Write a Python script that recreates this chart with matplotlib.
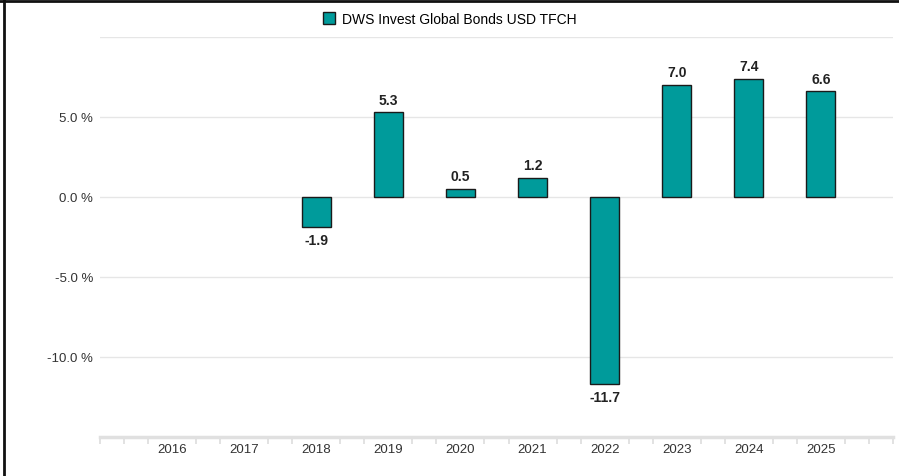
import matplotlib.pyplot as plt
import numpy as np
from matplotlib.lines import Line2D
from matplotlib.patches import Patch

#--------------------------------------------#
# Data
#--------------------------------------------#
years   = ["2016", "2017", "2018", "2019", "2020", "2021", "2022", "2023", "2024", "2025"]
returns = [None, None, -1.9, 5.3, 0.5, 1.2, -11.7, 7.0, 7.4, 6.6]
series_name = "DWS Invest Global Bonds USD TFCH"
yticks = [-10, -5, 0, 5]

teal = "#009b9b"
grid_col = "#e6e6e6"

plt.rcParams['font.family'] = ['Liberation Sans', 'DejaVu Sans']

fig = plt.figure(figsize=(8.99, 4.77), dpi=100)
ax = fig.add_axes([100/899, 39/477, 793/899, 400/477])

x = np.arange(len(years))
vals = np.array([np.nan if v is None else v for v in returns])
have = ~np.isnan(vals)

# grid lines
for g in [-15, -10, -5, 0, 5, 10]:
    ax.axhline(g, color=grid_col, lw=1.0, zorder=0)

# only the years that have a value get a bar
ax.bar(x[have], vals[have], width=0.4, color=teal, edgecolor="#1a1a1a",
       linewidth=1.0, zorder=3)
for xi, v in zip(x[have], vals[have]):
    if v >= 0:
        ax.text(xi, v + 0.35, "%.1f" % v, ha='center', va='bottom',
                fontsize=10, color="#222222", fontweight='bold')
    else:
        ax.text(xi, v - 0.35, "%.1f" % v, ha='center', va='top',
                fontsize=10, color="#222222", fontweight='bold')

ax.set_xlim(-1, 10)
ax.set_ylim(-15, 10)
ax.set_yticks(yticks)
ax.set_yticklabels(["%.1f %%" % t for t in yticks], fontsize=9.5, color="#333333")
ax.tick_params(axis='y', length=0, pad=5)

ax.set_xticks(x)
ax.set_xticklabels(years, fontsize=9.5, color="#333333")
ax.tick_params(axis='x', length=0, pad=4)
minor = [k/3 for k in range(-3, 31) if k % 3 != 0] + [-1, 10]
ax.set_xticks(minor, minor=True)
ax.tick_params(axis='x', which='minor', length=5, color="#dddddd", width=1.2)

for s in ['top', 'right', 'left']:
    ax.spines[s].set_visible(False)
ax.spines['bottom'].set_color("#e0e0e0")
ax.spines['bottom'].set_linewidth(2.5)

# legend
h = [Patch(facecolor=teal, edgecolor="#1a1a1a", linewidth=1.0)]
fig.legend(h, [series_name], loc='center', bbox_to_anchor=(450/899, 1 - 20/477),
           frameon=False, fontsize=10, handlelength=0.9, handleheight=0.9,
           handletextpad=0.5)

# outer frame lines (top and left)
fig.add_artist(Line2D([4/899, 4/899], [0, 1], color="#111111", lw=2.0,
                      transform=fig.transFigure))
fig.add_artist(Line2D([0, 1], [1 - 1.5/477, 1 - 1.5/477], color="#111111", lw=2.0,
                      transform=fig.transFigure))

fig.savefig("out.png", dpi=100)
